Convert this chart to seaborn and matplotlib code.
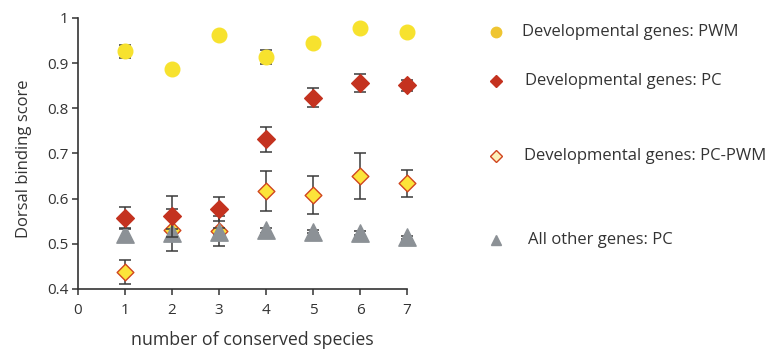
import numpy as np
import pandas as pd
import matplotlib.pyplot as plt
from matplotlib.lines import Line2D
import seaborn as sns

sns.set_style('ticks')
plt.rcParams['font.family'] = ['Open Sans', 'DejaVu Sans']

# values
species = [1, 2, 3, 4, 5, 6, 7]
pwm = [0.926, 0.887, 0.962, 0.913, 0.944, 0.977, 0.970]
pwm_err = [0.015, 0.0, 0.0, 0.016, 0.005, 0.0, 0.0]
pc = [0.558, 0.561, 0.577, 0.731, 0.823, 0.856, 0.851]
pc_err = [0.023, 0.045, 0.027, 0.028, 0.021, 0.020, 0.012]
pcpwm = [0.438, 0.531, 0.529, 0.617, 0.608, 0.650, 0.634]
pcpwm_err = [0.027, 0.046, 0.033, 0.045, 0.042, 0.050, 0.030]
other = [0.521, 0.524, 0.527, 0.530, 0.527, 0.524, 0.514]
other_err = [0.012, 0.008, 0.008, 0.005, 0.004, 0.004, 0.003]

labels = ['Developmental genes: PWM', 'Developmental genes: PC',
          'Developmental genes: PC-PWM', 'All other genes: PC']

txt = '#333333'
ebar = '#3a3a3a'

fig = plt.figure(figsize=(7.83, 3.52), dpi=100)
ax = fig.add_axes([0.0996, 0.179, 0.4202, 0.770])

series = [
    # values, errors, marker, size, face, edge, zorder
    (pcpwm, pcpwm_err, 'D', 8.5, '#fce43a', '#d0441e', 3),
    (other, other_err, '^', 12.5, '#8c9196', '#8c9196', 5),
    (pc, pc_err, 'D', 9, '#c4321f', '#c4321f', 7),
    (pwm, pwm_err, 'o', 10.5, '#f7e22e', '#f7e22e', 9),
]
for vals, errs, mk, ms, fc, ec, z in series:
    df = pd.DataFrame({'x': species, 'y': vals})
    sns.scatterplot(data=df, x='x', y='y', ax=ax, marker=mk, s=ms ** 2,
                    color=fc, edgecolor=ec, linewidth=1.0, zorder=z, clip_on=False)
    keep = [e > 0 for e in errs]
    ax.errorbar(np.array(species)[keep], np.array(vals)[keep], yerr=np.array(errs)[keep],
                fmt='none', ecolor=ebar, elinewidth=1.1, capsize=4.3, capthick=1.1,
                zorder=z - 0.5, clip_on=False)

ax.set_xlim(0, 7)
ax.set_ylim(0.4, 1.0)
ax.set_xticks(range(0, 8))
ax.set_yticks([0.4, 0.5, 0.6, 0.7, 0.8, 0.9, 1.0])
ax.set_yticklabels(['0.4', '0.5', '0.6', '0.7', '0.8', '0.9', '1'])
ax.tick_params(axis='both', labelsize=11, colors=txt, length=4, width=1.1, pad=6)
ax.tick_params(axis='y', pad=3)
for s in ['left', 'bottom']:
    ax.spines[s].set_color(txt)
    ax.spines[s].set_linewidth(1.2)
sns.despine(ax=ax)
ax.set_xlabel('number of conserved species', fontsize=12.8, color=txt)
ax.xaxis.set_label_coords(0.53, -0.155)
ax.set_ylabel('Dorsal binding score', fontsize=12, color=txt)
ax.yaxis.set_label_coords(-0.14, 0.48)

# legend drawn by hand to keep the uneven spacing
leg_y = [0.910, 0.770, 0.557, 0.318]
leg_x = [0.667, 0.670, 0.669, 0.674]
leg_style = [('o', 7.5, '#efc531', '#efc531'),
             ('D', 6.5, '#c4321f', '#c4321f'),
             ('D', 6.0, '#fdf0b8', '#d0441e'),
             ('^', 7.5, '#8c9196', '#8c9196')]
for y, tx, lab, (mk, ms, fc, ec) in zip(leg_y, leg_x, labels, leg_style):
    fig.add_artist(Line2D([0.6335], [y], transform=fig.transFigure, marker=mk,
                          markersize=ms, markerfacecolor=fc, markeredgecolor=ec,
                          markeredgewidth=1.0, linestyle='none'))
    fig.text(tx, y, lab, fontsize=12, color=txt, va='center', ha='left')

fig.savefig('out.png', dpi=100)
